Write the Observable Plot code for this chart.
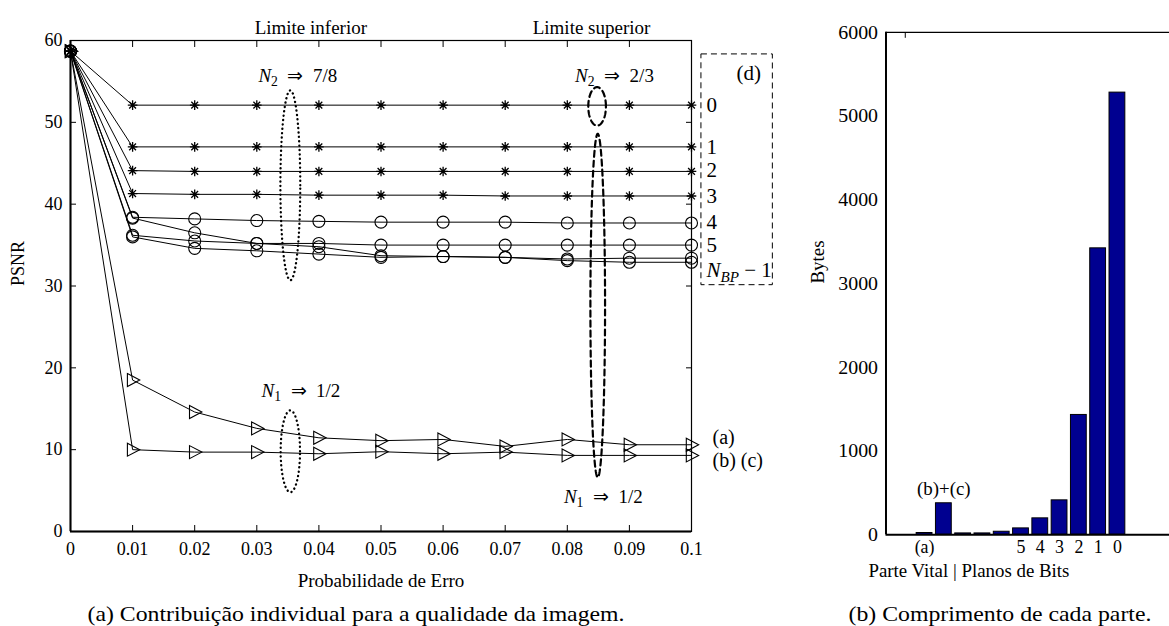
<!DOCTYPE html>
<html><head><meta charset="utf-8">
<script src="https://cdn.jsdelivr.net/npm/d3@7"></script>
<script src="https://cdn.jsdelivr.net/npm/@observablehq/plot@0.6"></script>
<style>
body{margin:0;background:#fff;}
#wrap{position:relative;width:1169px;height:626px;overflow:hidden;font-family:"Liberation Serif","Times New Roman",serif;background:#fff;}
.panel{position:absolute;top:0;}
.cap{position:absolute;font-size:22px;line-height:22px;white-space:nowrap;transform:translateX(-50%) scaleX(1.08);color:#000;}
</style></head><body><div id="wrap"><div id="left" class="panel" style="left:0"></div><div id="right" class="panel" style="left:790px"></div>
<div class="cap" style="left:356px;top:603px">(a) Contribuição individual para a qualidade da imagem.</div>
<div class="cap" style="left:1000px;top:603px">(b) Comprimento de cada parte.</div>
</div>
<script>
// ---------- Data: left chart ----------
const probErro = [0, 0.01, 0.02, 0.03, 0.04, 0.05, 0.06, 0.07, 0.08, 0.09, 0.1];
const xTickLabels = ["0", "0.01", "0.02", "0.03", "0.04", "0.05", "0.06", "0.07", "0.08", "0.09", "0.1"];
const yTicksPSNR = [0, 10, 20, 30, 40, 50, 60];
const psnrPlano0 = [58.7, 52.1, 52.1, 52.1, 52.1, 52.1, 52.1, 52.1, 52.1, 52.1, 52.1];
const psnrPlano1 = [58.7, 47.0, 47.0, 47.0, 47.0, 47.0, 47.0, 47.0, 47.0, 47.0, 47.0];
const psnrPlano2 = [58.7, 44.1, 44.0, 44.0, 44.0, 44.0, 44.0, 44.0, 44.0, 44.0, 44.0];
const psnrPlano3 = [58.7, 41.3, 41.2, 41.2, 41.1, 41.1, 41.1, 41.0, 41.0, 41.0, 41.0];
const psnrPlano4 = [58.7, 38.4, 38.2, 38.0, 37.9, 37.8, 37.8, 37.8, 37.7, 37.7, 37.7];
const psnrPlano5 = [58.7, 38.3, 36.5, 35.2, 35.2, 35.0, 35.0, 35.0, 35.0, 35.0, 35.0];
const psnrPlano6 = [58.7, 36.2, 35.5, 35.2, 34.8, 33.7, 33.6, 33.5, 33.3, 33.4, 33.4];
const psnrPlano7 = [58.7, 36.0, 34.6, 34.3, 33.9, 33.5, 33.6, 33.5, 33.1, 32.9, 32.9];
const psnrParteA = [58.7, 18.5, 14.6, 12.6, 11.45, 11.1, 11.25, 10.4, 11.25, 10.6, 10.6];
const psnrParteBC = [58.7, 10.0, 9.7, 9.7, 9.5, 9.75, 9.5, 9.7, 9.3, 9.3, 9.3];
const serieNomes = ["0", "1", "2", "3", "4", "5", "6", "7", "(a)", "(b)(c)"];
const serieMarcador = ["estrela", "estrela", "estrela", "estrela", "circulo", "circulo", "circulo", "circulo", "triangulo", "triangulo"];
const serieValores = [psnrPlano0, psnrPlano1, psnrPlano2, psnrPlano3, psnrPlano4, psnrPlano5, psnrPlano6, psnrPlano7, psnrParteA, psnrParteBC];

// right-hand labels of the left chart
const rotulosDir = ["0", "1", "2", "3", "4", "5", "N|BP| − 1"];
const rotulosDirY = [52.1, 47.0, 44.1, 41.0, 37.8, 35.0, 31.9];
const rotulosTri = ["(a)", "(b) (c)"];
const rotulosTriY = [11.45, 8.7];

// annotations (ellipses in data units)
const elipseNome = ["N2 7/8", "N1 1/2 inf", "N2 2/3", "N1 1/2 sup"];
const elipseCx = [0.0354, 0.0354, 0.0848, 0.0849];
const elipseCy = [42.3, 9.8, 51.95, 27.6];
const elipseRx = [0.0016, 0.00156, 0.00142, 0.00118];
const elipseRy = [11.6, 5.0, 2.35, 21.0];
const elipseEstilo = ["pontilhado", "pontilhado", "tracejado", "tracejado"];
const notasTexto = ["N|2|\u2002⇒\u20027/8", "N|1|\u2002⇒\u20021/2", "N|2|\u2002⇒\u20022/3", "N|1|\u2002⇒\u20021/2"];
const notasX = [0.0366, 0.0371, 0.0876, 0.0858];
const notasY = [55.7, 17.2, 55.7, 4.2];
const limitesTexto = ["Limite inferior", "Limite superior"];
const limitesX = [0.0387, 0.0839];
const caixaD = {x1: 0.1016, x2: 0.1131, y1: 30.1, y2: 58.3, rotulo: "(d)", rx: 0.1092, ry: 56.0};

// ---------- Data: right chart ----------
const barPos = [1, 2, 3, 4, 5, 6, 7, 8, 9, 10, 11];
const barBytes = [20, 375, 15, 15, 35, 75, 195, 410, 1430, 3420, 5280];
const barTickLabels = ["(a)", "", "", "", "", "5", "4", "3", "2", "1", "0"];
const barTopLabels = ["", "(b)+(c)", "", "", "", "", "", "", "", "", ""];
const yTicksBytes = [0, 1000, 2000, 3000, 4000, 5000, 6000];

// ---------- build tables ----------
const linhas = [];
serieNomes.forEach((nome, k) => probErro.forEach((p, i) =>
  linhas.push({p, v: serieValores[k][i], serie: nome, marcador: serieMarcador[k]})));

const elipsePts = [];
elipseNome.forEach((nome, k) => {
  for (let a = 0; a <= 360; a += 3) {
    const t = a * Math.PI / 180;
    elipsePts.push({nome, estilo: elipseEstilo[k],
      x: elipseCx[k] + elipseRx[k] * Math.cos(t), y: elipseCy[k] + elipseRy[k] * Math.sin(t)});
  }
});

const estrela = {draw(ctx, size) {
  const r = Math.sqrt(size / Math.PI), d = r * 0.7071;
  ctx.moveTo(-r, 0); ctx.lineTo(r, 0); ctx.moveTo(0, -r); ctx.lineTo(0, r);
  ctx.moveTo(-d, -d); ctx.lineTo(d, d); ctx.moveTo(-d, d); ctx.lineTo(d, -d);
}};
const trianguloDir = {draw(ctx, size) {
  const r = Math.sqrt(size / Math.PI);
  ctx.moveTo(-0.8 * r, -r); ctx.lineTo(1.1 * r, 0); ctx.lineTo(-0.8 * r, r); ctx.closePath();
}};

const fonte = "'Liberation Serif', 'Times New Roman', serif";

const left = Plot.plot({
  width: 790, height: 626,
  marginLeft: 70, marginRight: 99, marginTop: 40, marginBottom: 95,
  style: {fontFamily: fonte, fontSize: "18px", background: "transparent", color: "black", overflow: "visible"},
  x: {domain: [0, 0.1]},
  y: {domain: [0, 60]},
  marks: [
    Plot.frame({stroke: "black", strokeWidth: 1.2}),
    Plot.ruleX([0], {stroke: "black", strokeWidth: 2}),
    Plot.ruleY([0], {stroke: "black", strokeWidth: 2}),
    Plot.axisX(probErro, {anchor: "bottom", tickSize: 0, tickPadding: 11, fontSize: 18, fontFamily: fonte, tickFormat: (d, i) => xTickLabels[i], label: null}),
    Plot.axisX(probErro, {anchor: "bottom", tickSize: -6, tickFormat: () => "", label: null}),
    Plot.axisX(probErro, {anchor: "top", tickSize: -6, tickFormat: () => "", label: null}),
    Plot.axisY(yTicksPSNR, {anchor: "left", tickSize: 0, tickPadding: 8, fontSize: 18, fontFamily: fonte, label: null}),
    Plot.axisY(yTicksPSNR, {anchor: "left", tickSize: -6, tickFormat: () => "", label: null}),
    Plot.axisY(yTicksPSNR, {anchor: "right", tickSize: -6, tickFormat: () => "", label: null}),
    Plot.line(linhas, {x: "p", y: "v", z: "serie", stroke: "black", strokeWidth: 1}),
    Plot.dot(linhas.filter(d => d.marcador === "estrela"), {x: "p", y: "v", symbol: estrela, r: 4.8, stroke: "black", strokeWidth: 1.3}),
    Plot.dot(linhas.filter(d => d.marcador === "circulo"), {x: "p", y: "v", symbol: "circle", r: 6, fill: "none", stroke: "black", strokeWidth: 1.1}),
    Plot.dot(linhas.filter(d => d.marcador === "triangulo"), {x: "p", y: "v", symbol: trianguloDir, r: 6.5, fill: "none", stroke: "black", strokeWidth: 1.1}),
    Plot.line(elipsePts.filter(d => d.estilo === "pontilhado"), {x: "x", y: "y", z: "nome", stroke: "black", strokeWidth: 2.3, strokeDasharray: "0.2,4.2", strokeLinecap: "round"}),
    Plot.line(elipsePts.filter(d => d.estilo === "tracejado"), {x: "x", y: "y", z: "nome", stroke: "black", strokeWidth: 2.2, strokeDasharray: "6,4"}),
    Plot.text(notasTexto, {x: (d, i) => notasX[i], y: (d, i) => notasY[i], text: d => d, fontSize: 19, fontFamily: fonte}),
    Plot.text(limitesTexto, {x: (d, i) => limitesX[i], text: d => d, frameAnchor: "top", dy: -20, fontSize: 19, fontFamily: fonte}),
    Plot.text(rotulosDir, {x: 0.1, y: (d, i) => rotulosDirY[i], text: d => d, textAnchor: "start", dx: 15, fontSize: 21, fontFamily: fonte}),
    Plot.text(rotulosTri, {x: 0.1, y: (d, i) => rotulosTriY[i], text: d => d, textAnchor: "start", dx: 21, fontSize: 20, fontFamily: fonte}),
    Plot.rect([caixaD], {x1: "x1", x2: "x2", y1: "y1", y2: "y2", fill: "none", stroke: "black", strokeWidth: 1, strokeDasharray: "6,4"}),
    Plot.text([caixaD], {x: "rx", y: "ry", text: "rotulo", fontSize: 21, fontFamily: fonte}),
    Plot.text(["Probabilidade de Erro"], {x: 0.05, frameAnchor: "bottom", dy: 55, fontSize: 19, fontFamily: fonte}),
    Plot.text(["PSNR"], {frameAnchor: "left", rotate: -90, dx: -52, fontSize: 18, fontFamily: fonte})
  ]
});

const barras = barPos.map((pos, i) => ({pos, bytes: barBytes[i], tick: barTickLabels[i], topo: barTopLabels[i]}));

const right = Plot.plot({
  width: 381, height: 626,
  marginLeft: 96, marginRight: 0, marginTop: 32, marginBottom: 89,
  style: {fontFamily: fonte, fontSize: "19px", background: "transparent", color: "black", overflow: "visible"},
  x: {domain: [-1, 13.7]},
  y: {domain: [0, 6000]},
  marks: [
    Plot.rectY(barras, {x1: d => d.pos - 0.41, x2: d => d.pos + 0.41, y: "bytes", fill: "#000090", stroke: "black", strokeWidth: 1}),
    Plot.ruleY([6000], {stroke: "black", strokeWidth: 1.2}),
    Plot.ruleY([0], {stroke: "black", strokeWidth: 2}),
    Plot.ruleX([-1], {stroke: "black", strokeWidth: 2}),
    Plot.axisX([0], {anchor: "top", tickSize: -5, tickFormat: () => "", label: null}),
    Plot.axisY(yTicksBytes, {anchor: "left", tickSize: 0, tickPadding: 8, fontSize: 20, fontFamily: fonte, tickFormat: d => String(d), label: null}),
    Plot.text(barras, {x: "pos", text: "tick", frameAnchor: "bottom", dy: 18, fontSize: 18, fontFamily: fonte}),
    Plot.text(barras.filter(d => d.topo), {x: "pos", y: "bytes", text: "topo", dy: -14, fontSize: 19, fontFamily: fonte}),
    Plot.text(["Bytes"], {frameAnchor: "left", rotate: -90, dx: -68, fontSize: 19, fontFamily: fonte}),
    Plot.text(["Parte Vital | Planos de Bits"], {x: 3.3, frameAnchor: "bottom", dy: 43, fontSize: 19, fontFamily: fonte})
  ]
});

// math-style labels: "N|sub|rest" -> italic N with subscript
function mathify(svg) {
  d3.select(svg).selectAll("text").each(function() {
    const t = this.textContent;
    if (!t.includes("|")) return;
    const [n, sub, rest] = t.split("|");
    const el = d3.select(this);
    el.text(null);
    el.append("tspan").attr("font-style", "italic").text(n);
    el.append("tspan").attr("font-size", "0.72em").attr("dy", "0.3em")
      .attr("font-style", /[A-Za-z]/.test(sub) ? "italic" : "normal").text(sub);
    el.append("tspan").attr("dy", "-0.216em").attr("font-size", "1em").text(rest);
  });
}
mathify(left);
document.getElementById("left").appendChild(left);
document.getElementById("right").appendChild(right);
</script></body></html>
